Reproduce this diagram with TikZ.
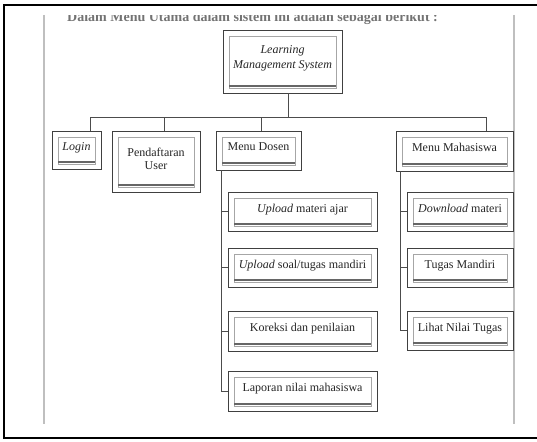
\documentclass[tikz,border=0pt]{standalone}
\usepackage{fontspec}
\setmainfont{Liberation Serif}
\usepackage{tikz}
\usetikzlibrary{positioning}

\tikzset{
    menubox/.style={draw=black!75,line width=0.9pt,fill=white,inner sep=0pt,
        font=\fontsize{12}{13.5}\selectfont,text=black!85,align=center,
        path picture={
            \draw[black!35,line width=0.5pt] ([shift={(6pt,5pt)}]path picture bounding box.south west)
                rectangle ([shift={(-6pt,-6pt)}]path picture bounding box.north east);
            \draw[black!60,line width=1.3pt] ([shift={(6pt,7pt)}]path picture bounding box.south west)
                -- ([shift={(-6pt,7pt)}]path picture bounding box.south east);
        }},
    link/.style={draw=black!70,line width=0.9pt},
    pageline/.style={draw=black!25,line width=1.2pt},
}

\begin{document}
\begin{tikzpicture}[x=1pt,y=-1pt]
    \useasboundingbox (0,0) rectangle (537,441);
    % frame and page
    \draw [black,line width=2.2pt] (537,5)--(4,5)--(4,438)--(537,438);
    \draw [pageline] (44,15)--(44,424);
    \draw [pageline] (514,15)--(514,424);
    \begin{scope}
        \clip (44,16) rectangle (514,30);
        \node [anchor=base west,inner sep=0pt,text=black!55,font=\fontsize{14}{16}\selectfont\bfseries] (intro) at (67,22)
            {Dalam Menu Utama dalam sistem ini adalah sebagai berikut :};
    \end{scope}

    \node [menubox,minimum width=119pt,minimum height=63pt] (lms) at (282.5,61.5)
        {\itshape Learning\\[2pt]\itshape Management System\\[-5pt]};

    \node [menubox,minimum width=49pt,minimum height=38pt] (login) at (76.5,150) {\itshape Login\\[-6.5pt]};
    \node [menubox,minimum width=88pt,minimum height=61pt] (daftar) at (156,161.5) {Pendaftaran\\User\\[-8.5pt]};
    \node [menubox,minimum width=85pt,minimum height=39pt] (dosen) at (258.5,150.5) {Menu Dosen\\[-6.5pt]};
    \node [menubox,minimum width=117pt,minimum height=40pt] (mhs) at (454.5,151) {Menu Mahasiswa\\[-6.5pt]};

    \node [menubox,minimum width=149pt,minimum height=39pt] (upmateri) at (302.5,211.5) {\textit{Upload} materi ajar\\[-6.5pt]};
    \node [menubox,minimum width=149pt,minimum height=39pt] (upsoal) at (302.5,267.5) {\textit{Upload} soal/tugas mandiri\\[-6.5pt]};
    \node [menubox,minimum width=149pt,minimum height=40pt] (koreksi) at (302.5,331) {Koreksi dan penilaian\\[-6.5pt]};
    \node [menubox,minimum width=149pt,minimum height=40pt] (laporan) at (302.5,391) {Laporan nilai mahasiswa\\[-6.5pt]};

    \node [menubox,minimum width=106pt,minimum height=39pt] (download) at (460,211.5) {\textit{Download} materi\\[-6.5pt]};
    \node [menubox,minimum width=106pt,minimum height=39pt] (tugas) at (460,267.5) {Tugas Mandiri\\[-6.5pt]};
    \node [menubox,minimum width=106pt,minimum height=39pt] (nilai) at (460,330.5) {Lihat Nilai Tugas\\[-6.5pt]};

    % top level
    \coordinate (bus) at (288,117);
    \draw [link] ([xshift=5.5pt]lms.south) -- (bus);
    \draw [link] (bus) -| ([xshift=13.5pt]login.north);
    \draw [link] (bus) -| ([xshift=8pt]daftar.north);
    \draw [link] (bus) -| ([xshift=2.5pt]dosen.north);
    \draw [link] (bus) -| ([xshift=31.5pt]mhs.north);

    % sub menus
    \foreach \sub in {upmateri,upsoal,koreksi,laporan}
        \draw [link] ([xshift=6pt]dosen.south west) |- (\sub.west);
    \foreach \sub in {download,tugas,nilai}
        \draw [link] ([xshift=5pt]mhs.south west) |- (\sub.west);
\end{tikzpicture}
\end{document}
